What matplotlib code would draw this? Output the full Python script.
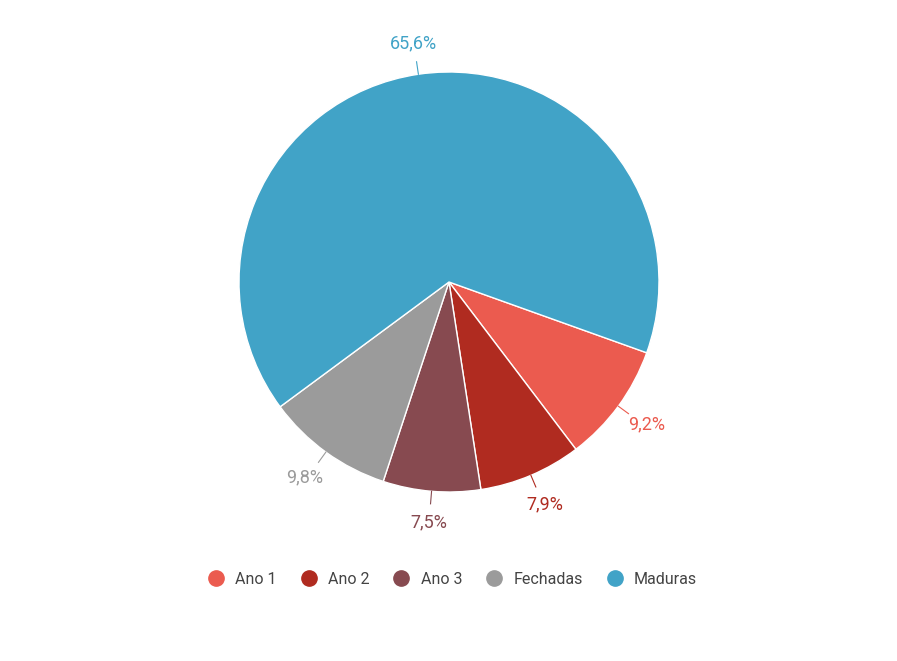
import numpy as np
import matplotlib.pyplot as plt
from matplotlib.lines import Line2D

categories = ["Ano 1", "Ano 2", "Ano 3", "Fechadas", "Maduras"]
values = [9.2, 7.9, 7.5, 9.8, 65.6]
labels = ["9,2%", "7,9%", "7,5%", "9,8%", "65,6%"]
colors = ["#EB5B4F", "#B02B20", "#874A50", "#9B9B9B", "#41A3C7"]

plt.rcParams['font.family'] = ['Roboto', 'DejaVu Sans']

fig = plt.figure(figsize=(8.97, 6.61), dpi=100)
ax = fig.add_axes([(449 - 210) / 897, (661 - 282 - 210) / 661, 420 / 897, 420 / 661])
start = -19.7
wedges, _ = ax.pie(values, colors=colors, startangle=start, counterclock=False,
                   radius=1.0, wedgeprops=dict(edgecolor="white", linewidth=1))
ax.set_xlim(-1, 1)
ax.set_ylim(-1, 1)
ax.set_aspect("equal")

for w, lab, c in zip(wedges, labels, colors):
    mid = np.deg2rad((w.theta1 + w.theta2) / 2)
    cx, cy = np.cos(mid), np.sin(mid)
    ax.plot([1.0 * cx, 1.06 * cx], [1.0 * cy, 1.06 * cy], color=c, lw=0.8, clip_on=False)
    ax.text(1.17 * cx, 1.15 * cy, lab, color=c, fontsize=13, ha="center", va="center")

handles = [Line2D([], [], marker="o", ls="", markersize=11, markerfacecolor=c,
                  markeredgecolor=c) for c in colors]
fig.legend(handles, categories, loc="center", bbox_to_anchor=(0.5, 1 - 579 / 661),
           ncol=5, frameon=False, fontsize=11.5, handletextpad=0.2, columnspacing=1.0,
           labelcolor="#444444")

fig.savefig("out.png", dpi=100)
